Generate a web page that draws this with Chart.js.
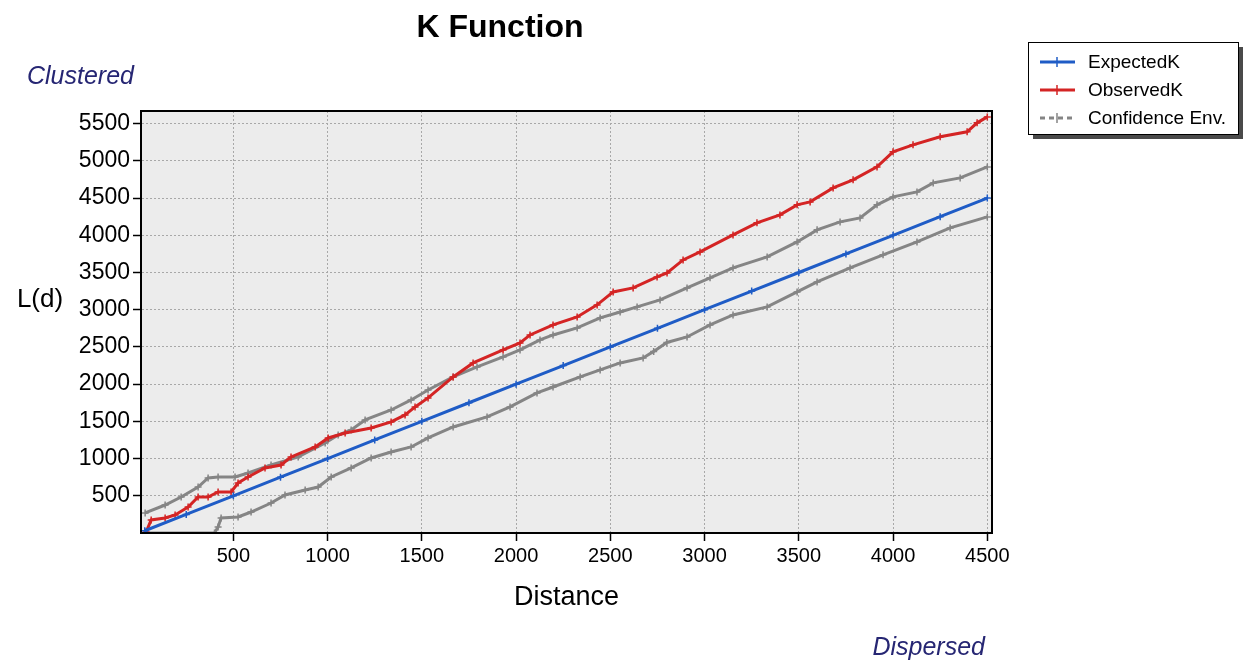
<!DOCTYPE html>
<html>
<head>
<meta charset="utf-8">
<script src="https://cdn.jsdelivr.net/npm/chart.js@4/dist/chart.umd.min.js"></script>
<style>
html, body { margin: 0; background: #fff; }
</style>
</head>
<body>
<canvas id="kchart" width="1246" height="665"></canvas>
<script>
// values (distance, L(d))
expectedDist = [30, 250, 500, 750, 1000, 1250, 1500, 1750, 2000, 2250, 2500, 2750, 3000, 3250, 3500, 3750, 4000, 4250, 4500]
expectedVal = [30, 250, 500, 750, 1000, 1250, 1500, 1750, 2000, 2250, 2500, 2750, 3000, 3250, 3500, 3750, 4000, 4250, 4500]

observedDist = [37, 64, 138, 191, 260, 313, 366, 419, 488, 525, 578, 668, 753, 806, 934, 1003, 1093, 1231, 1337, 1411, 1464, 1533, 1666, 1772, 1931, 2021, 2074, 2196, 2324, 2430, 2515, 2621, 2748, 2801, 2886, 2976, 3151, 3278, 3400, 3491, 3560, 3682, 3788, 3915, 4000, 4106, 4250, 4393, 4446, 4500]
observedVal = [13, 175, 202, 242, 350, 484, 484, 551, 551, 672, 753, 874, 914, 1022, 1156, 1277, 1344, 1411, 1492, 1586, 1694, 1815, 2097, 2285, 2460, 2554, 2661, 2796, 2903, 3065, 3239, 3293, 3441, 3495, 3669, 3777, 4005, 4167, 4274, 4409, 4449, 4637, 4745, 4919, 5121, 5215, 5323, 5390, 5511, 5591]

upperDist = [32, 138, 223, 313, 366, 419, 509, 578, 700, 844, 987, 1056, 1125, 1199, 1337, 1443, 1533, 1666, 1793, 1931, 2021, 2127, 2196, 2324, 2446, 2552, 2642, 2764, 2907, 3029, 3151, 3332, 3491, 3597, 3719, 3825, 3915, 4000, 4127, 4213, 4356, 4500]
upperVal = [269, 376, 484, 618, 739, 753, 753, 806, 914, 1022, 1210, 1317, 1384, 1519, 1653, 1788, 1922, 2097, 2231, 2366, 2460, 2594, 2661, 2755, 2890, 2970, 3038, 3132, 3293, 3428, 3562, 3710, 3911, 4073, 4180, 4234, 4409, 4516, 4583, 4704, 4771, 4919]

lowerDist = [32, 400, 419, 435, 525, 594, 700, 774, 881, 950, 1019, 1125, 1231, 1337, 1443, 1533, 1666, 1846, 1968, 2111, 2196, 2340, 2446, 2552, 2674, 2730, 2800, 2907, 3029, 3151, 3332, 3491, 3597, 3772, 3947, 4127, 4303, 4500]
lowerVal = [0, 0, 81, 202, 215, 282, 403, 511, 578, 618, 753, 874, 1008, 1089, 1156, 1277, 1425, 1560, 1694, 1882, 1962, 2097, 2191, 2285, 2352, 2440, 2560, 2634, 2796, 2930, 3038, 3239, 3374, 3562, 3737, 3911, 4099, 4247]

xTicks = [500, 1000, 1500, 2000, 2500, 3000, 3500, 4000, 4500]
yTicks = [500, 1000, 1500, 2000, 2500, 3000, 3500, 4000, 4500, 5000, 5500]

function pts(xs, ys) {
    return xs.map((x, i) => ({x: x, y: ys[i]}))
}

function series(label, xs, ys, color, dashed) {
    return {
        label,
        data: pts(xs, ys),
        borderColor: color,
        backgroundColor: color,
        borderWidth: 3,
        pointStyle: 'cross',
        pointRadius: 3.5,
        pointBorderWidth: 1.5,
        pointHoverRadius: 3.5,
        tension: 0,
        legendDash: dashed
    }
}

data = [
    series('ExpectedK', expectedDist, expectedVal, '#1f5cc6', false),
    series('ObservedK', observedDist, observedVal, '#d42424', false),
    series('Confidence Env.', upperDist, upperVal, '#858585', true),
    Object.assign(series('Confidence Env.', lowerDist, lowerVal, '#858585', true), {noLegend: true})
]

// plot background, frame, free texts and the boxed legend
decor = {
    id: 'decor',
    beforeDraw(chart) {
        const {ctx, chartArea: a} = chart
        ctx.save()
        ctx.fillStyle = '#ececec'
        ctx.fillRect(a.left, a.top, a.width, a.height)
        ctx.restore()
    },
    afterDraw(chart) {
        const {ctx, chartArea: a} = chart
        ctx.save()
        ctx.strokeStyle = '#000'
        ctx.lineWidth = 2
        ctx.strokeRect(a.left, a.top, a.width, a.height)

        ctx.fillStyle = '#000'
        ctx.textAlign = 'center'
        ctx.textBaseline = 'middle'
        ctx.font = 'bold 32px "Liberation Sans"'
        ctx.fillText('K Function', 500, 28)
        ctx.font = '26px "Liberation Sans"'
        ctx.fillText('L(d)', 40, 300)

        ctx.fillStyle = '#262673'
        ctx.font = 'italic 25px "Liberation Sans"'
        ctx.textAlign = 'left'
        ctx.fillText('Clustered', 27, 77)
        ctx.textAlign = 'right'
        ctx.fillText('Dispersed', 985, 648)

        // legend
        const bx = 1028, by = 42, bw = 210, bh = 92
        ctx.fillStyle = '#4a4a4a'
        ctx.fillRect(bx + 5, by + 5, bw, bh)
        ctx.fillStyle = '#fff'
        ctx.fillRect(bx, by, bw, bh)
        ctx.strokeStyle = '#000'
        ctx.lineWidth = 1
        ctx.strokeRect(bx + 0.5, by + 0.5, bw, bh)
        ctx.textAlign = 'left'
        ctx.font = '19px "Liberation Sans"'
        let row = 0
        chart.data.datasets.forEach(ds => {
            if (ds.noLegend) return
            const y = by + 20 + row * 28
            ctx.strokeStyle = ds.borderColor
            ctx.lineWidth = 3
            ctx.setLineDash(ds.legendDash ? [5, 4] : [])
            ctx.beginPath()
            ctx.moveTo(bx + 12, y)
            ctx.lineTo(bx + 47, y)
            ctx.stroke()
            ctx.setLineDash([])
            ctx.lineWidth = 1.5
            ctx.beginPath()
            ctx.moveTo(bx + 29, y - 5)
            ctx.lineTo(bx + 29, y + 5)
            ctx.stroke()
            ctx.fillStyle = '#000'
            ctx.fillText(ds.label, bx + 60, y + 1)
            row++
        })
        ctx.restore()
    }
}

config = {
    type: 'line',
    data: {datasets: data},
    plugins: [decor],
    options: {
        responsive: false,
        animation: false,
        layout: {padding: {left: 49, right: 254, top: 111, bottom: 47}},
        plugins: {
            legend: {display: false},
            title: {display: false},
            tooltip: {enabled: false}
        },
        scales: {
            x: {
                type: 'linear',
                min: 10,
                max: 4525,
                afterFit: s => { s.height = 85 },
                afterBuildTicks: s => { s.ticks = xTicks.map(v => ({value: v})) },
                ticks: {
                    color: '#000',
                    font: {family: 'Liberation Sans', size: 20},
                    padding: 3,
                    maxRotation: 0,
                    callback: v => String(v)
                },
                grid: {color: '#a8a8a8', lineWidth: 1, tickColor: '#000', tickLength: 8, tickWidth: 1.5},
                border: {display: true, color: '#000', width: 2, dash: [2, 2]},
                title: {
                    display: true,
                    text: 'Distance',
                    color: '#000',
                    font: {family: 'Liberation Sans', size: 27},
                    padding: {top: 0, bottom: 4}
                }
            },
            y: {
                type: 'linear',
                min: 0,
                max: 5670,
                afterFit: s => { s.width = 92 },
                afterBuildTicks: s => { s.ticks = yTicks.map(v => ({value: v})) },
                ticks: {
                    color: '#000',
                    font: {family: 'Liberation Sans', size: 23},
                    padding: 3,
                    callback: v => String(v)
                },
                grid: {color: '#a8a8a8', lineWidth: 1, tickColor: '#000', tickLength: 8, tickWidth: 1.5},
                border: {display: true, color: '#000', width: 2, dash: [2, 2]}
            }
        }
    }
}

ctx = document.getElementById('kchart')
new Chart(ctx, config)
</script>
</body>
</html>
